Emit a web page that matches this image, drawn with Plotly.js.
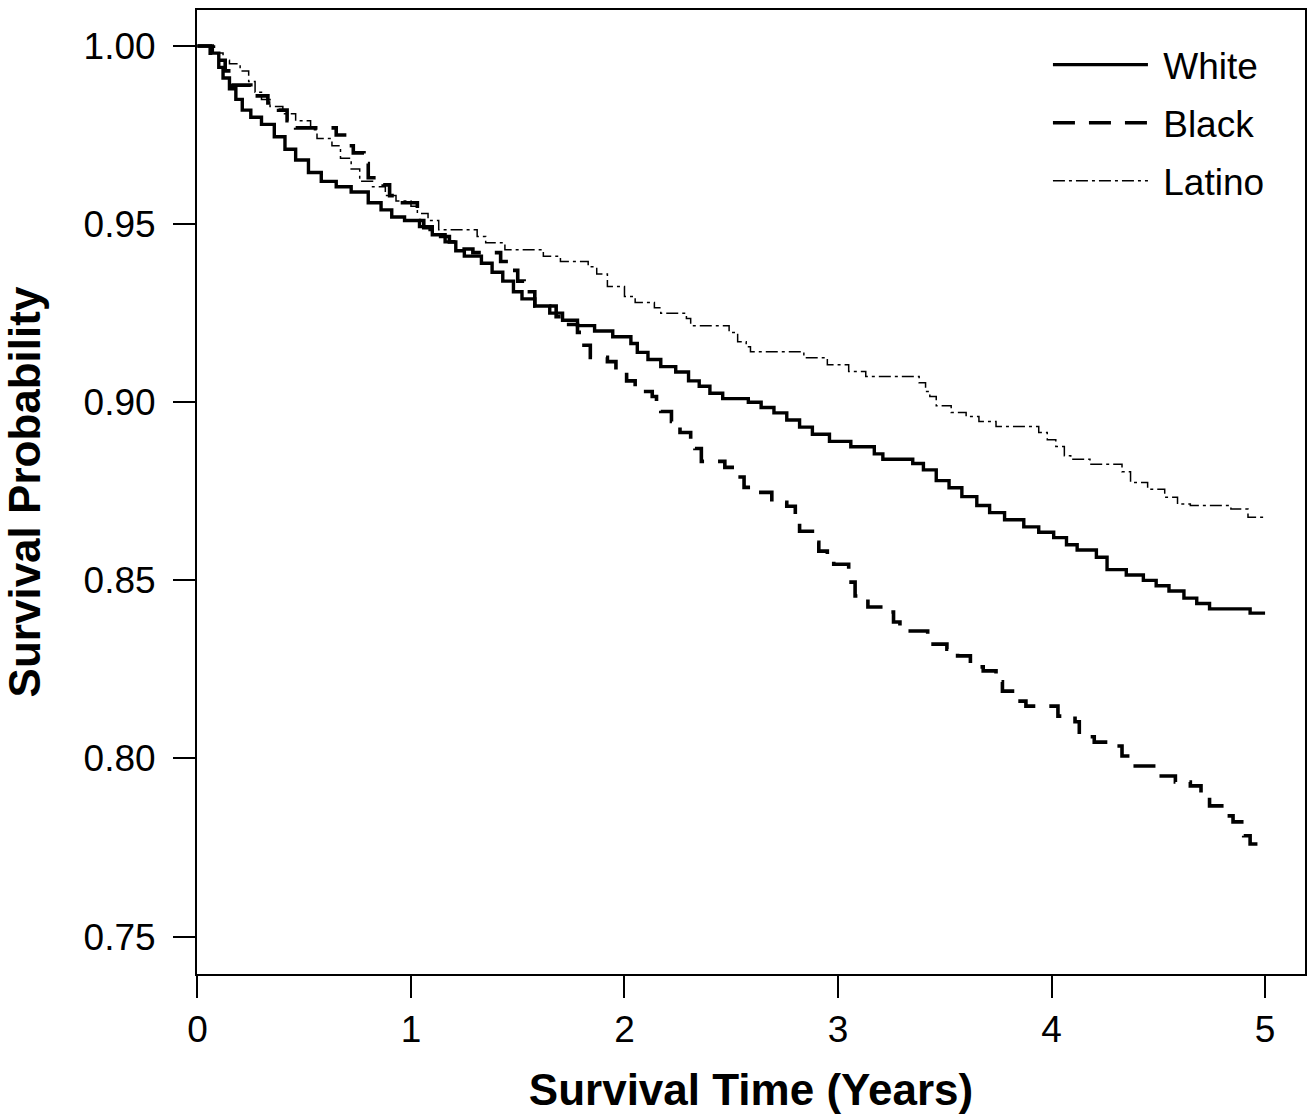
<!DOCTYPE html>
<html>
<head>
<meta charset="utf-8">
<script src="https://cdn.plot.ly/plotly-3.0.1.min.js"></script>
<style>html,body{margin:0;padding:0;background:#fff;}#chart{width:1316px;height:1119px;}</style>
</head>
<body>
<div id="chart"></div>
<script>
// Survival time in years and survival probability (Kaplan-Meier steps)
const whiteT = [0,0.07,0.10,0.12,0.15,0.18,0.21,0.25,0.30,0.36,0.41,0.46,0.52,0.58,0.65,0.72,0.80,0.86,0.91,0.97,1.04,1.10,1.16,1.21,1.25,1.33,1.38,1.43,1.48,1.52,1.58,1.65,1.71,1.78,1.86,1.945,2.03,2.06,2.11,2.17,2.24,2.30,2.35,2.40,2.46,2.58,2.64,2.70,2.76,2.82,2.88,2.96,3.06,3.17,3.21,3.35,3.40,3.46,3.52,3.58,3.65,3.71,3.78,3.87,3.94,4.01,4.07,4.12,4.21,4.26,4.35,4.43,4.49,4.55,4.62,4.68,4.74,4.93,5.0];
const whiteS = [1.0,0.998,0.994,0.991,0.988,0.985,0.982,0.980,0.978,0.9745,0.971,0.968,0.9645,0.962,0.9605,0.959,0.956,0.954,0.952,0.951,0.9493,0.947,0.945,0.9425,0.941,0.939,0.9365,0.934,0.931,0.929,0.927,0.925,0.923,0.9215,0.920,0.9184,0.9165,0.914,0.912,0.910,0.9085,0.906,0.9045,0.9025,0.901,0.900,0.8985,0.897,0.895,0.893,0.891,0.889,0.8875,0.8855,0.884,0.8828,0.881,0.878,0.876,0.8735,0.871,0.869,0.867,0.865,0.8635,0.862,0.860,0.8585,0.8565,0.853,0.8515,0.850,0.8485,0.847,0.845,0.8435,0.842,0.8408,0.8408];

const blackT = [0,0.06,0.10,0.13,0.16,0.25,0.33,0.38,0.42,0.46,0.65,0.70,0.73,0.78,0.80,0.87,0.90,0.95,1.03,1.06,1.09,1.18,1.21,1.29,1.42,1.46,1.50,1.53,1.58,1.68,1.72,1.78,1.80,1.84,1.92,1.96,2.01,2.05,2.13,2.15,2.17,2.22,2.26,2.31,2.33,2.36,2.47,2.53,2.56,2.63,2.69,2.76,2.80,2.82,2.88,2.91,2.95,2.98,3.05,3.08,3.14,3.20,3.26,3.29,3.42,3.51,3.56,3.62,3.68,3.74,3.77,3.84,3.88,4.03,4.11,4.13,4.20,4.27,4.33,4.37,4.50,4.58,4.65,4.70,4.74,4.82,4.85,4.90,4.93,5.0];
const blackS = [1.0,0.998,0.996,0.993,0.989,0.986,0.984,0.982,0.979,0.977,0.975,0.972,0.970,0.967,0.963,0.961,0.958,0.956,0.951,0.949,0.9465,0.945,0.943,0.942,0.9395,0.937,0.934,0.931,0.927,0.924,0.9218,0.9196,0.916,0.9126,0.9114,0.909,0.906,0.903,0.9016,0.899,0.8974,0.8946,0.8915,0.8896,0.887,0.8834,0.8817,0.879,0.8761,0.8747,0.8719,0.8708,0.8677,0.8638,0.8607,0.8582,0.856,0.8545,0.8495,0.8456,0.8425,0.8411,0.8383,0.8358,0.8321,0.8307,0.8288,0.8257,0.8246,0.8215,0.8189,0.8161,0.8147,0.8119,0.8103,0.8061,0.8046,0.8035,0.8007,0.7979,0.7951,0.7934,0.7923,0.7892,0.7867,0.7839,0.7822,0.7783,0.776,0.776];

const latinoT = [0,0.08,0.12,0.15,0.20,0.24,0.27,0.30,0.34,0.40,0.46,0.53,0.56,0.63,0.67,0.72,0.76,0.82,0.88,0.93,1.00,1.03,1.08,1.13,1.31,1.35,1.44,1.62,1.70,1.83,1.87,1.92,2.00,2.05,2.14,2.17,2.29,2.31,2.49,2.53,2.57,2.59,2.84,2.95,3.05,3.13,3.38,3.41,3.43,3.46,3.53,3.60,3.66,3.74,3.94,3.98,4.02,4.06,4.09,4.18,4.33,4.37,4.45,4.53,4.59,4.65,4.84,4.92,5.0];
const latinoS = [1.0,0.998,0.996,0.995,0.993,0.990,0.987,0.985,0.983,0.981,0.979,0.9765,0.974,0.972,0.9685,0.9655,0.962,0.9605,0.958,0.9565,0.955,0.953,0.951,0.9484,0.9465,0.9448,0.9428,0.941,0.9395,0.938,0.936,0.9325,0.9297,0.928,0.9265,0.925,0.9235,0.9215,0.9196,0.917,0.9156,0.9142,0.9125,0.9105,0.9086,0.9072,0.9055,0.903,0.9016,0.899,0.8971,0.896,0.8946,0.8932,0.8915,0.8895,0.8876,0.885,0.884,0.8826,0.8805,0.8775,0.8756,0.8733,0.8714,0.871,0.870,0.8677,0.8677];

const seriesNames = ['White', 'Black', 'Latino'];
const xTicks = [0, 1, 2, 3, 4, 5];
const yTicks = [0.75, 0.80, 0.85, 0.90, 0.95, 1.00];
const xTitle = 'Survival Time (Years)';
const yTitle = 'Survival Probability';

const FONT = 'Liberation Sans, Arial, Helvetica, sans-serif';
const NBSP = '\u00a0';

const traces = [
  {x: whiteT, y: whiteS, name: NBSP + seriesNames[0], legendgroup: 'g1',
   line: {color: '#000', width: 3.4, shape: 'hv', dash: 'solid'}},
  {x: blackT, y: blackS, name: NBSP + seriesNames[1], legendgroup: 'g2',
   line: {color: '#000', width: 3.6, shape: 'hv', dash: '22px,14px'}},
  {x: latinoT, y: latinoS, name: NBSP + seriesNames[2], legendgroup: 'g3',
   line: {color: '#000', width: 1.5, shape: 'hv', dash: '12px,4px,3px,4px'}}
].map(t => Object.assign({type: 'scatter', mode: 'lines', hoverinfo: 'skip'}, t));

const axisCommon = {
  showline: true, mirror: true, linecolor: '#000', linewidth: 2,
  ticks: 'outside', ticklen: 22, tickwidth: 2, tickcolor: '#000',
  showgrid: false, zeroline: false,
  tickfont: {family: FONT, size: 37, color: '#000'},
  automargin: false
};

const layout = {
  width: 1316, height: 1119,
  paper_bgcolor: '#fff', plot_bgcolor: '#fff',
  margin: {l: 197, r: 11, t: 10, b: 145},
  showlegend: true,
  xaxis: Object.assign({}, axisCommon, {
    range: [-0.002, 5.187], tickvals: xTicks, ticktext: xTicks.map(String),
    ticklabelstandoff: 0,
    title: {text: xTitle, standoff: 25, font: {family: FONT, size: 44, color: '#000', weight: 'bold'}}
  }),
  yaxis: Object.assign({}, axisCommon, {
    range: [0.7395, 1.0101], tickvals: yTicks, ticktext: yTicks.map(v => v.toFixed(2)),
    ticklabelstandoff: 10,
    title: {text: yTitle, standoff: 30, font: {family: FONT, size: 44, color: '#000', weight: 'bold'}}
  }),
  legend: {
    x: 0.768, y: 0.975, xanchor: 'left', yanchor: 'top',
    bgcolor: 'rgba(0,0,0,0)', borderwidth: 0,
    font: {family: FONT, size: 37, color: '#000'},
    itemwidth: 95, tracegroupgap: 7, traceorder: 'grouped'
  }
};

Plotly.newPlot('chart', traces, layout, {staticPlot: true, displayModeBar: false});
</script>
</body>
</html>
